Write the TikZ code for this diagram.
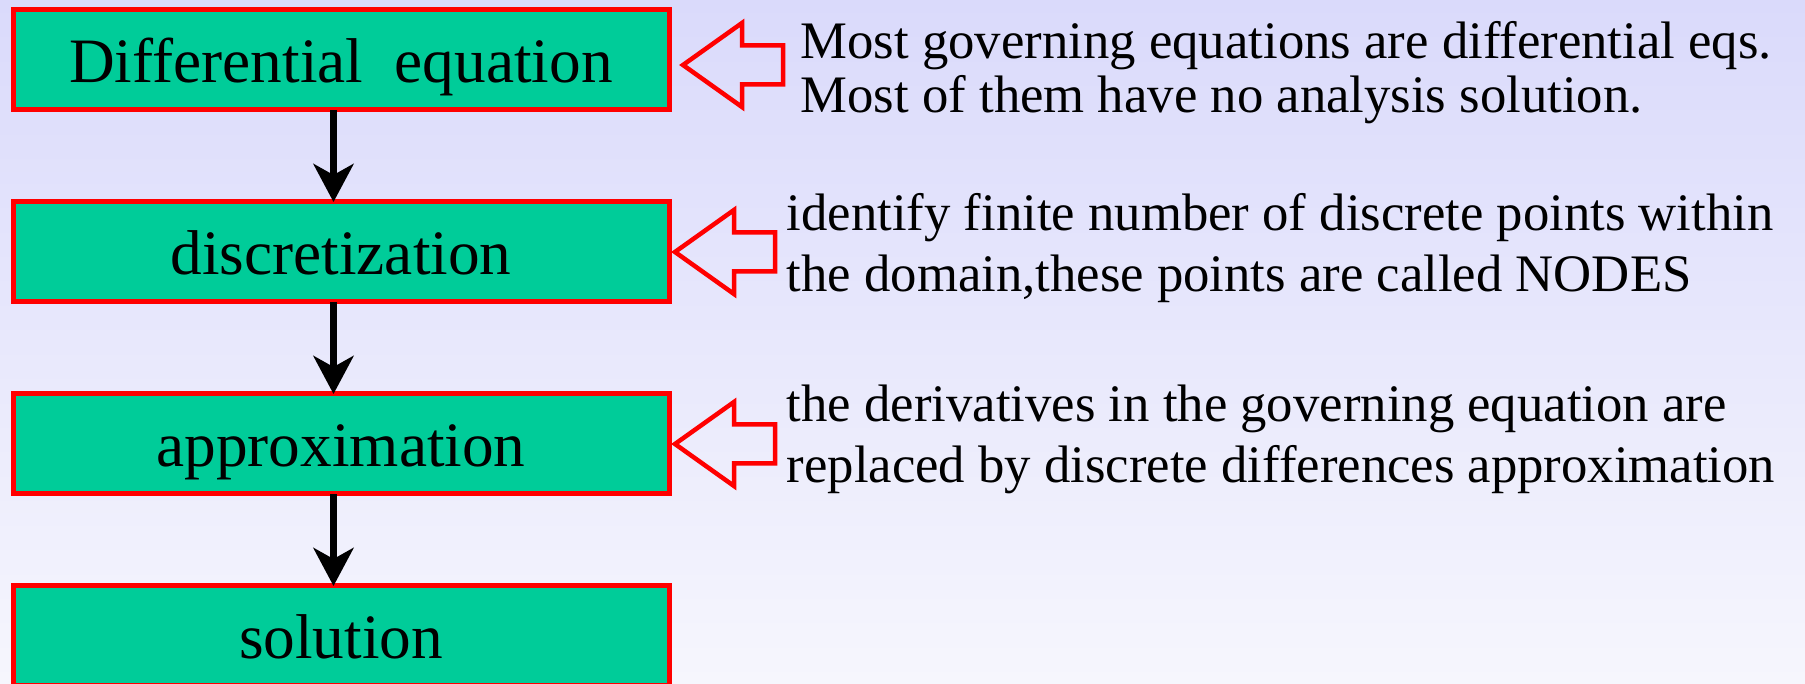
\documentclass[tikz,border=0pt]{standalone}
\usepackage{fontspec}
\setmainfont{Liberation Serif}
\usepackage{xcolor}
\definecolor{boxgreen}{HTML}{00CC99}
\definecolor{boxred}{HTML}{FF0000}
\definecolor{bgtop}{HTML}{DADAFB}
\definecolor{bgbottom}{HTML}{F6F6FD}
\usetikzlibrary{arrows.meta,positioning}

\begin{document}
\begin{tikzpicture}[
		x=0.1mm, y=-0.1mm,
		node distance=9.2mm,
		stepbox/.style={draw=boxred, fill=boxgreen, line width=0.5mm, outer sep=0pt,
			minimum width=65.6mm, minimum height=10mm, text height=6mm, text depth=1.4mm,
			font=\fontsize{18}{20}\selectfont},
		flow/.style={line width=0.7mm, -{Stealth[length=3.8mm, width=4mm, inset=1.1mm]}},
		hollow/.style={draw=boxred, line width=0.45mm, line join=miter},
		note/.style={anchor=base west, inner sep=0pt, align=left}
	]
		% Background
		\shade[top color=bgtop, bottom color=bgbottom] (0,0) rectangle (1805,684);
		\useasboundingbox (0,0) rectangle (1805,684);

		% Steps
		\node[stepbox] (d1) at (341,60) {Differential~~equation};
		\node[stepbox, below=of d1] (d2) {discretization};
		\node[stepbox, below=of d2] (d3) {approximation};
		\node[stepbox, below=of d3] (d4) {solution};

		% Flow arrows
		\foreach \a/\b in {d1/d2, d2/d3, d3/d4} {
			\draw[flow] ([xshift=-0.75mm]\a.south) -- ([xshift=-0.75mm]\b.north);
		}

		% Hollow pointers
		\foreach \b/\dx/\dy in {d1/14/5, d2/6/0, d3/6/0} {
			\draw[hollow] ([shift={(\dx,\dy)}]\b.east) -- ++(59,-42) -- ++(0,22.5) -- ++(41,0)
				-- ++(0,39) -- ++(-41,0) -- ++(0,22.5) -- cycle;
		}

		% Notes (base = last line)
		\node[note, font=\fontsize{15}{15.6}\selectfont] (t1) at (800,113)
			{Most governing equations are differential eqs.\\Most of them have no analysis solution.};
		\node[note, font=\fontsize{15}{17.4}\selectfont] (t2) at (786,292)
			{identify finite number of discrete points within\\the domain,these points are called NODES};
		\node[note, font=\fontsize{15}{17.4}\selectfont] (t3) at (786,483)
			{the derivatives in the governing equation are\\replaced by discrete differences approximation};
	\end{tikzpicture}
\end{document}
